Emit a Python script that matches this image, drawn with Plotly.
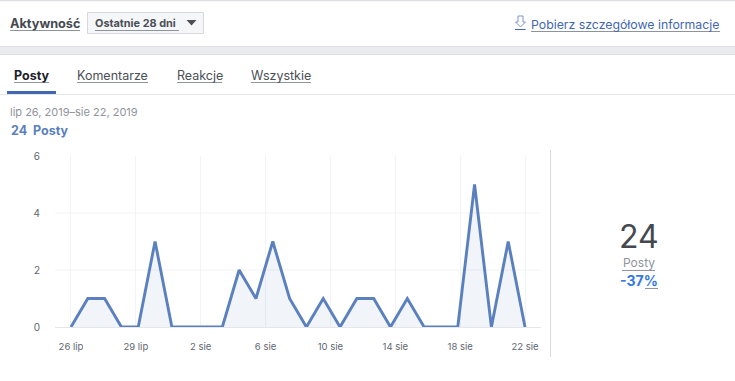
import plotly.graph_objects as go

W, H = 735, 381
dates = ["26 lip","27 lip","28 lip","29 lip","30 lip","31 lip","1 sie","2 sie","3 sie","4 sie","5 sie","6 sie","7 sie","8 sie",
         "9 sie","10 sie","11 sie","12 sie","13 sie","14 sie","15 sie","16 sie","17 sie","18 sie","19 sie","20 sie","21 sie","22 sie"]
posts = [0,1,1,0,0,3,0,0,0,0,2,1,3,1,0,1,0,1,1,0,1,0,0,0,5,0,3,0]
tick_labels = ["26 lip","29 lip","2 sie","6 sie","10 sie","14 sie","18 sie","22 sie"]
y_ticks = [0,2,4,6]
FONT = "Inter, Roboto, Liberation Sans, sans-serif"

def px(x): return x / W
def py(y): return 1 - y / H

fig = go.Figure()
idx = list(range(len(posts)))
fig.add_trace(go.Scatter(x=idx, y=posts, mode="lines", fill="tozeroy",
    fillcolor="rgba(66,103,178,0.075)", line=dict(color="#5a80bd", width=2.9), hoverinfo="skip", showlegend=False))

n = len(tick_labels) - 1
tick_pos = [i * (len(posts) - 1) / n for i in range(n + 1)]

shapes = []
def rect(x0, y0, x1, y1, fill, line=None, lw=1):
    shapes.append(dict(type="rect", xref="paper", yref="paper", x0=px(x0), x1=px(x1), y0=py(y0), y1=py(y1),
                       fillcolor=fill, line=dict(color=line or fill, width=lw if line else 0), layer="below"))
def hline(x0, x1, y, color, w=1):
    shapes.append(dict(type="line", xref="paper", yref="paper", x0=px(x0), x1=px(x1), y0=py(y), y1=py(y),
                       line=dict(color=color, width=w), layer="below"))
def vline(x, y0, y1, color, w=1):
    shapes.append(dict(type="line", xref="paper", yref="paper", x0=px(x), x1=px(x), y0=py(y0), y1=py(y1),
                       line=dict(color=color, width=w), layer="below"))

# page chrome
hline(0, W, 0.5, "#dddfe2", 1.5)
rect(0, 46, W, 54.5, "#e9ebee")
hline(0, W, 46.5, "#dddfe2")
hline(0, W, 54.5, "#dddfe2")
hline(0, W, 94.5, "#e4e6ea")
rect(7, 91, 56, 94, "#4267b2")
rect(87.5, 12.5, 203.5, 33.5, "#f5f6f7", "#d6d8dc")
vline(550.5, 150, 357, "#d5d9e0")
# underlines
hline(10, 80, 30.5, "#8d949e")
hline(95, 179, 30.5, "#8d949e")
hline(531, 720, 31.5, "#8d949e")
hline(14, 49, 82.5, "#90949c")
hline(77, 148, 82.5, "#90949c")
hline(177, 222, 82.5, "#90949c")
hline(251, 311, 82.5, "#90949c")
hline(622, 655, 270.5, "#90949c")
hline(645, 658, 288.5, "#90949c")
# dropdown arrow
shapes.append(dict(type="path", xref="paper", yref="paper", layer="above",
    path=f"M {px(186.5)} {py(20)} L {px(196.5)} {py(20)} L {px(191.5)} {py(25.5)} Z",
    fillcolor="#4b4f56", line=dict(width=0)))
# download icon
shapes.append(dict(type="path", xref="paper", yref="paper", layer="above",
    path=(f"M {px(518)} {py(16)} L {px(523)} {py(16)} L {px(523)} {py(22)} L {px(525.5)} {py(22)} "
          f"L {px(520.5)} {py(27)} L {px(515.5)} {py(22)} L {px(518)} {py(22)} Z"),
    fillcolor="rgba(0,0,0,0)", line=dict(color="#7f97c9", width=1)))
hline(515, 525.5, 29.5, "#4267b2")
# horizontal grid lines, not drawn at the top label
for v in y_ticks[1:-1]:
    shapes.append(dict(type="line", xref="paper", yref="y", x0=px(55), x1=px(541), y0=v, y1=v,
                       line=dict(color="#f2f3f5", width=1), layer="below"))

anns = []
def text(s, x, y, size, color, bold=False, anchor="left"):
    anns.append(dict(text=f"<b>{s}</b>" if bold else s, xref="paper", yref="paper", x=px(x), y=py(y),
                     xanchor=anchor, yanchor="middle", showarrow=False, borderpad=0,
                     font=dict(family=FONT, size=size, color=color)))
text("Aktywność", 9, 23, 12.7, "#444950", True)
text("Ostatnie 28 dni", 94, 23.5, 10.9, "#4b4f56", True)
text("Pobierz szczegółowe informacje", 530, 24, 12.3, "#4267b2")
text("Posty", 13, 75, 12.5, "#1d2129", True)
text("Komentarze", 76, 75, 12.5, "#4b4f56")
text("Reakcje", 176, 75, 12.5, "#4b4f56")
text("Wszystkie", 250, 75, 12.5, "#4b4f56")
text("lip 26, 2019–sie 22, 2019", 9, 112, 11, "#90949c")
text("24  Posty", 10, 130.5, 12.5, "#5b7fbd", True)
text("24", 639, 236, 32, "#444950", anchor="center")
text("Posty", 639, 262, 12, "#90949c", anchor="center")
text("-37%", 639, 280, 14, "#3578e5", True, anchor="center")

fig.update_layout(
    width=W, height=H, margin=dict(l=0, r=0, t=0, b=0), autosize=False,
    paper_bgcolor="white", plot_bgcolor="rgba(0,0,0,0)",
    shapes=shapes, annotations=anns,
    font=dict(family=FONT),
    xaxis=dict(domain=[px(55), px(541)], range=[-0.95, 27.95], tickmode="array", tickvals=tick_pos, ticktext=tick_labels,
               automargin=False,
               showgrid=True, gridcolor="#f2f3f5", gridwidth=1, zeroline=False, showline=False,
               ticks="outside", ticklen=11, tickcolor="rgba(0,0,0,0)",
               tickfont=dict(family=FONT, size=9.5, color="#606770"), anchor="y", fixedrange=True),
    yaxis=dict(domain=[py(327), py(156)], range=[0, 6], tickmode="array", tickvals=y_ticks,
               automargin=False,
               showgrid=False, zeroline=True, zerolinecolor="#e4e6ea", zerolinewidth=1, showline=False,
               ticks="outside", ticklen=12, tickcolor="rgba(0,0,0,0)",
               tickfont=dict(family=FONT, size=10, color="#606770"), anchor="x", fixedrange=True),
)
fig.write_html("out.html", config={"displayModeBar": False}, post_script="document.body.style.margin='0';")
